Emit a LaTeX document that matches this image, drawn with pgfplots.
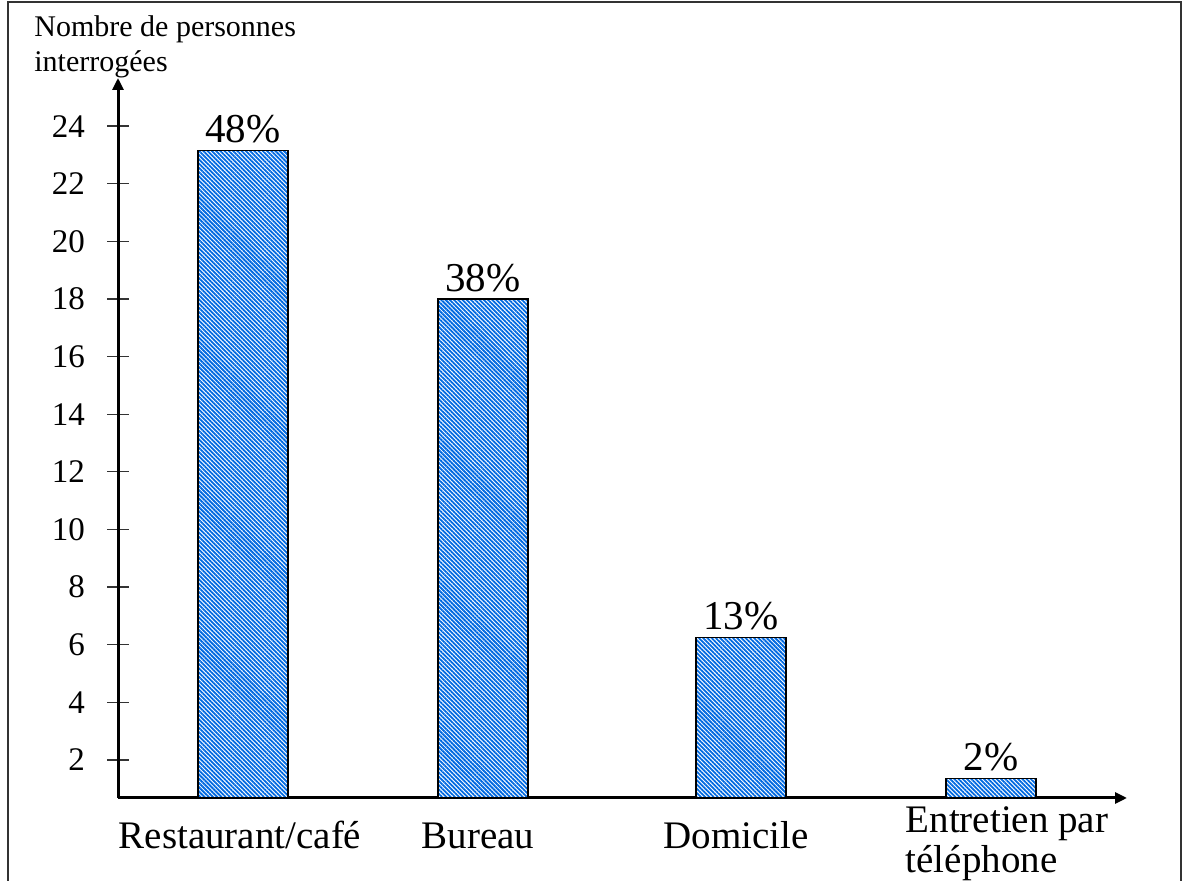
\documentclass[border=0pt]{standalone}
\usepackage{pgfplots}
\pgfplotsset{compat=1.18}
\usepackage{fontspec}
\setmainfont{Liberation Serif}
\usetikzlibrary{arrows.meta,patterns.meta}
\definecolor{hatch}{RGB}{0,105,225}
\begin{document}
\begin{tikzpicture}[x=1pt,y=1pt]
\path[use as bounding box] (0,0) rectangle (591.5,440.5);
\draw[line width=0.7pt,black!80] (4,-5) -- (4,439.5) -- (590.5,439.5) -- (590.5,-5);
\begin{axis}[
  at={(59pt,41.5pt)}, anchor=south west,
  scale only axis, width=504.5pt, height=360pt,
  xmin=118, xmax=1127, ymin=0.68, ymax=25.67,
  axis lines=left,
  axis line style={line width=1.5pt, -{Triangle[length=6pt,width=5.5pt]}},
  ytick={2,4,...,24},
  tick align=center,
  major tick length=11pt,
  ytick style={line width=0.6pt, black!80},
  xtick style={draw=none},
  /pgf/number format/assume math mode=true,
  yticklabel style={font=\fontsize{16.5}{19}\selectfont, xshift=-7.5pt},
  xtick={240,478,736},
  xticklabels={Restaurant/café, Bureau, Domicile},
  xticklabel style={font=\fontsize{19.5}{20}\selectfont, anchor=base, yshift=-14.5pt},
  extra x ticks={1007},
  extra x tick labels={Entretien par\\téléphone},
  extra x tick style={xticklabel style={align=left, anchor=base, yshift=-12pt}},
  ylabel={Nombre de personnes\\interrogées},
  ylabel style={rotate=-90, align=left, anchor=south west, at={(axis description cs:0,1)}, xshift=-42pt, yshift=0pt, font=\fontsize{15}{17.5}\selectfont, inner sep=0pt},
  ybar, bar width=90,
  point meta=explicit symbolic,
  nodes near coords,
  nodes near coords style={font=\fontsize{20.5}{22}\selectfont, black},
  clip=true,
]
\addplot[draw=black, line width=0.6pt, fill=white,
  postaction={pattern={Lines[angle=-45,distance=1.5pt,line width=0.9pt]}, pattern color=hatch}]
  coordinates {(243,23.15) [48\%] (483,18.0) [38\%] (741,6.25) [13\%] (991,1.35) [2\%]};
\end{axis}
\end{tikzpicture}
\end{document}
